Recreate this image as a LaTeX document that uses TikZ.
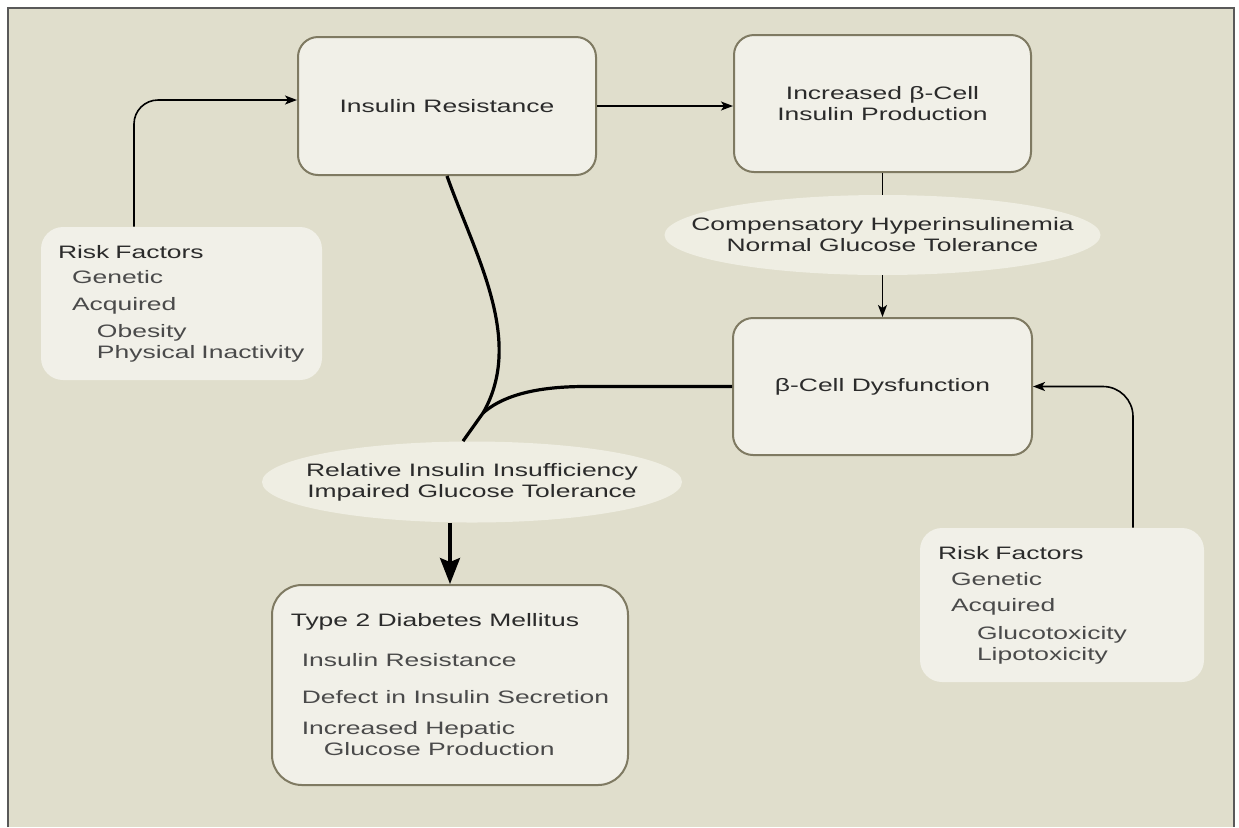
\documentclass[tikz,border=0pt]{standalone}
\usepackage{fontspec}
\setmainfont[FakeStretch=1.47]{Liberation Sans}
\usepackage{xcolor}
\usetikzlibrary{arrows.meta,calc,positioning,shapes}
\definecolor{bgkhaki}{HTML}{E0DECC}
\definecolor{boxfill}{HTML}{F1F0E8}
\definecolor{boxline}{HTML}{7F7A62}
\definecolor{ovalfill}{HTML}{EFEEE3}
\definecolor{txtdark}{HTML}{2B2B2B}
\definecolor{txtgray}{HTML}{4A4A4A}

\begin{document}
\begin{tikzpicture}[x=0.5pt,y=-0.5pt,
        font=\fontsize{9}{10.5}\selectfont,
        blk/.style={draw=boxline,line width=1pt,fill=boxfill,rounded corners=10pt,text=txtdark,align=center,minimum width=149pt,minimum height=69pt},
        oval/.style={ellipse,fill=ovalfill,inner sep=0pt},
        rf/.style={fill=boxfill,rounded corners=11pt,text=txtgray,align=left,inner xsep=9pt,text width=124pt,minimum height=77pt},
        flow/.style={line width=0.8pt,-{Stealth[length=6pt,width=4.5pt,inset=1.5pt]}},
        heavy/.style={line width=1.6pt}]
            \useasboundingbox (0,0) rectangle (1239,827);
            \fill[white] (0,0) rectangle (1239,827);
            \fill[bgkhaki] (8,8) rectangle (1234,827);
            \draw[line width=1pt,black!65] (8,827) -- (8,8) -- (1234,8) -- (1234,827);

            \node[blk] (ir) at (447,106) {Insulin Resistance};
            \node[blk,minimum width=148.5pt,minimum height=68.5pt] (ib) at (882.5,103.5) {Increased β-Cell\\Insulin Production};
            \node[blk,minimum width=149.5pt,minimum height=68.5pt] (bd) at (882.5,386.5) {β-Cell Dysfunction};
            \node[oval,minimum width=218pt,minimum height=40pt,
                label={[align=center,text=txtdark]center:Compensatory Hyperinsulinemia\\Normal Glucose Tolerance}] (e1) at (882.5,235) {};
            \node[oval,minimum width=210pt,minimum height=40.5pt,
                label={[align=center,text=txtdark]center:Relative Insulin Insufficiency\\Impaired Glucose Tolerance}] (e2) at (472,482) {};

            \node[rf,text width=123.5pt,inner xsep=8.5pt,minimum height=76.5pt] (rf1) at (181.5,303.5) {{\color{txtdark}Risk Factors}\\[2pt]
                \hspace*{7pt}Genetic\\[3pt]
                \hspace*{7pt}Acquired\\[3pt]
                \hspace*{19.5pt}Obesity\\
                \hspace*{19.5pt}Physical Inactivity};
            \node[rf] (rf2) at (1062,605) {{\color{txtdark}Risk Factors}\\[2.5pt]
                \hspace*{6.5pt}Genetic\\[2.5pt]
                \hspace*{6.5pt}Acquired\\[3.5pt]
                \hspace*{19.5pt}Glucotoxicity\\
                \hspace*{19.5pt}Lipotoxicity};
            \node[blk,rounded corners=15pt,align=left,text=txtgray,minimum width=178pt,minimum height=100pt] (t2dm) at (450,685) {{\color{txtdark}Type 2 Diabetes Mellitus}\\[9.5pt]
                \hspace*{5.5pt}Insulin Resistance\\[8pt]
                \hspace*{5.5pt}Defect in Insulin Secretion\\[5pt]
                \hspace*{5.5pt}Increased Hepatic\\
                \hspace*{16.5pt}Glucose Production};

            \draw[flow,rounded corners=12pt] ([xshift=-23.75pt]rf1.north) |- ([yshift=3pt]ir.west);
            \draw[flow] (ir.east) -- (ir.east -| ib.west);
            \draw[line width=0.8pt] (ib.south) -- (e1.north);
            \draw[flow] (e1.south) -- (bd.north);
            \draw[flow,rounded corners=15pt] ([xshift=35.5pt]rf2.north) |- (bd.east);

            \coordinate (jn) at (483,413);
            \begin{scope}[heavy]
                \draw (ir.south) .. controls (475,255) and (525,340) .. (jn) -- ([xshift=-4.5pt]e2.north);
                \draw (bd.west) -- (585,386.5) .. controls (530,386.5) and (500,398) .. (jn);
                \draw[-{Stealth[length=13pt,width=10pt,inset=2pt]}] (t2dm.north |- e2.south) -- (t2dm.north);
            \end{scope}
        \end{tikzpicture}
\end{document}
